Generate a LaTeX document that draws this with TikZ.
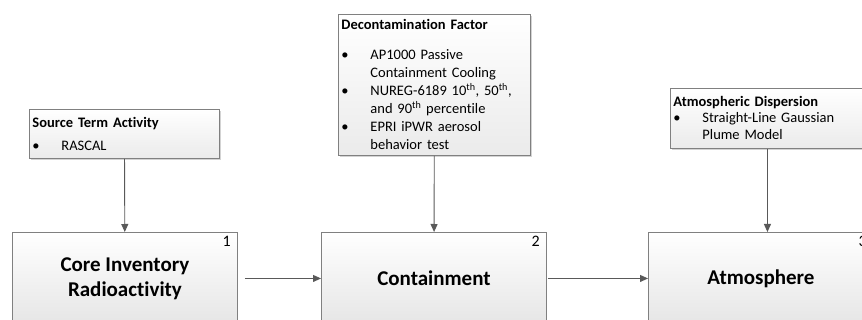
\documentclass[tikz,border=0pt]{standalone}
\usepackage{fontspec}
\setmainfont[Ligatures=NoCommon]{Carlito}
\usetikzlibrary{arrows.meta,shadows}
\hyphenpenalty=10000
\newcommand{\bitem}[1]{\par\hangindent=29pt\hangafter=1\noindent\makebox[29pt][l]{\textbullet}#1\par}
\begin{document}
\begin{tikzpicture}[x=1pt, y=-1pt,
    stage/.style={draw=black!50, line width=0.9pt, top color=white, bottom color=black!10,
        minimum width=225pt, minimum height=92pt, anchor=north west, align=center,
        font=\fontsize{21}{25}\selectfont\bfseries},
    info/.style={draw=black!50, line width=0.9pt, top color=white, bottom color=black!8,
        anchor=north west, align=left, inner xsep=3pt, inner ysep=3pt,
        drop shadow={shadow xshift=2pt, shadow yshift=-2pt, opacity=0.35},
        font=\fontsize{14.5}{18}\selectfont},
    num/.style={anchor=north east, inner sep=0pt, font=\fontsize{16}{16}\selectfont},
    arr/.style={draw=black!65, line width=0.9pt, -{Triangle[length=8pt, width=7pt]}}]
    \useasboundingbox (0,0) rectangle (862,320);
    \clip (0,0) rectangle (862,320);
    % stages
    \node[stage] (core) at (12,232) {Core Inventory\\Radioactivity};
    \node[stage] (cont) at (321,232) {Containment};
    \node[stage] (atm) at (648,232) {Atmosphere};
    \node[num] (n1) at ([xshift=-7pt, yshift=-4pt]core.north east) {1};
    \node[num] (n2) at ([xshift=-7pt, yshift=-4pt]cont.north east) {2};
    \node[num] (n3) at ([xshift=-7pt, yshift=-4pt]atm.north east) {3};
    % inputs
    \node[info, text width=184pt, minimum height=49pt] (src) at (29,109)
        {\textbf{Source Term Activity}\par\vspace{5pt}\bitem{RASCAL}};
    \node[info, text width=186pt, minimum height=141pt] (decon) at (338,14)
        {\textbf{Decontamination Factor}\par\vspace{12pt}
         \bitem{AP1000 Passive\newline Containment Cooling}
         \bitem{NUREG-6189 10\textsuperscript{th}, 50\textsuperscript{th},\newline and 90\textsuperscript{th} percentile}
         \bitem{EPRI iPWR aerosol\newline behavior test}};
    \node[info, text width=188pt, minimum height=60pt, font=\fontsize{14.5}{17}\selectfont] (atmo) at (670,88)
        {\textbf{Atmospheric Dispersion}\par\vspace{-1pt}\bitem{Straight-Line Gaussian\newline Plume Model}};
    % flows
    \draw[arr] (src) -- (core);
    \draw[arr] (decon) -- (cont);
    \draw[arr] (atmo) -- (atmo |- atm.north);
    \draw[arr, shorten <=7pt] (core.east) -- (cont.west);
    \draw[arr, shorten <=1pt] (cont.east) -- (atm.west);
\end{tikzpicture}
\end{document}
